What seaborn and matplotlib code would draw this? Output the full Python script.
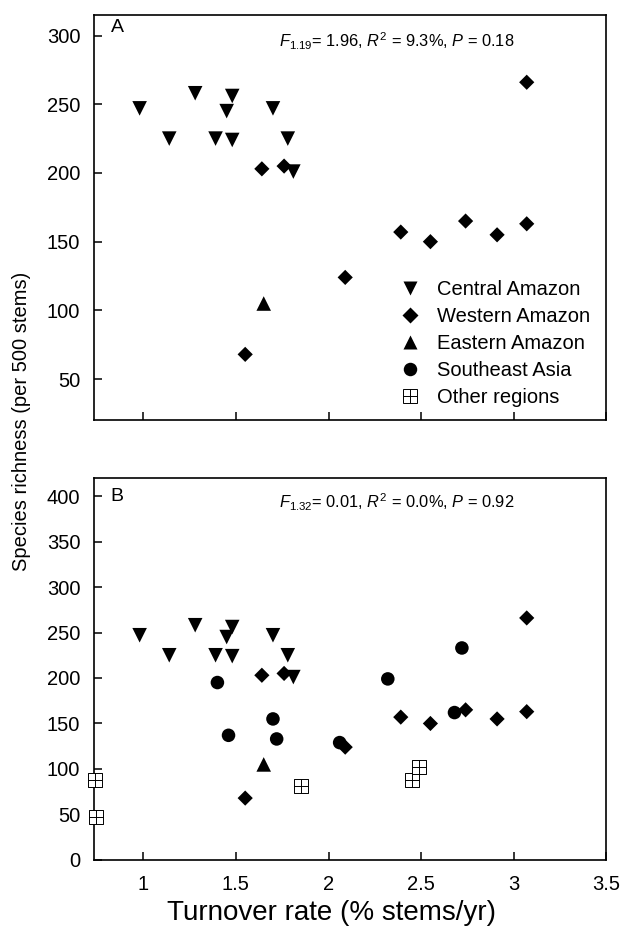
import seaborn as sns
import matplotlib.pyplot as plt
from matplotlib.lines import Line2D
from matplotlib.legend_handler import HandlerTuple
from matplotlib.ticker import FuncFormatter

# Turnover rate (% stems/yr) and species richness (per 500 stems) by region
central_x = [0.98, 1.14, 1.28, 1.48, 1.45, 1.39, 1.48, 1.70, 1.78, 1.81]
central_y = [247, 225, 258, 256, 245, 225, 224, 247, 225, 201]
western_x = [1.64, 1.76, 3.07, 2.39, 2.55, 2.74, 2.91, 3.07, 2.09, 1.55]
western_y = [203, 205, 266, 157, 150, 165, 155, 163, 124, 68]
eastern_x = [1.65]
eastern_y = [105]
asia_x = [1.40, 1.46, 1.70, 1.72, 2.06, 2.32, 2.68, 2.72]
asia_y = [195, 137, 155, 133, 129, 199, 162, 233]
other_x = [0.737, 0.742, 1.85, 2.45, 2.49]
other_y = [88, 47, 81, 88, 102]

region_labels = ["Central Amazon", "Western Amazon", "Eastern Amazon",
                 "Southeast Asia", "Other regions"]
stats_a = r"$F_{\mathrm{1.19}}$= 1.96, $R^{\mathrm{2}}$ = 9.3%, $P$ = 0.18"
stats_b = r"$F_{\mathrm{1.32}}$= 0.01, $R^{\mathrm{2}}$ = 0.0%, $P$ = 0.92"
x_ticks = [1, 1.5, 2, 2.5, 3, 3.5]

sns.set_style("ticks")
plt.rcParams['font.family'] = ['Liberation Sans', 'DejaVu Sans']
plt.rcParams['mathtext.fontset'] = 'custom'
plt.rcParams['mathtext.rm'] = 'Liberation Sans'
plt.rcParams['mathtext.it'] = 'Liberation Sans:italic'
for key in ['text.color', 'axes.labelcolor', 'xtick.color', 'ytick.color', 'axes.edgecolor']:
    plt.rcParams[key] = 'black'

fig = plt.figure(figsize=(6.2, 9.32), dpi=100)
ax_a = fig.add_axes([0.152, 0.549, 0.826, 0.435])
ax_b = fig.add_axes([0.152, 0.0773, 0.826, 0.41])

tri_s, dia_s, circ_s, sq_s = 110, 60, 95, 100


def draw_panel(ax, with_extra):
    sns.scatterplot(x=central_x, y=central_y, marker='v', s=tri_s, color='black',
                    edgecolor='none', ax=ax)
    sns.scatterplot(x=western_x, y=western_y, marker='D', s=dia_s, color='black',
                    edgecolor='none', ax=ax)
    sns.scatterplot(x=eastern_x, y=eastern_y, marker='^', s=tri_s, color='black',
                    edgecolor='none', ax=ax)
    if with_extra:
        sns.scatterplot(x=asia_x, y=asia_y, marker='o', s=circ_s, color='black',
                        edgecolor='none', ax=ax)
        sns.scatterplot(x=other_x, y=other_y, marker='s', s=sq_s, color='white',
                        edgecolor='black', linewidth=0.7, clip_on=False, zorder=3, ax=ax)
        sns.scatterplot(x=other_x, y=other_y, marker='+', s=sq_s, color='black',
                        linewidth=0.7, clip_on=False, zorder=4, ax=ax)
    ax.set_xlim(0.735, 3.5)
    ax.set_xticks(x_ticks)
    ax.tick_params(direction='in', length=6, width=1.1, labelsize=14.5,
                   top=False, right=False)
    ax.tick_params(axis='y', pad=10)
    ax.tick_params(axis='x', pad=11)
    for sp in ax.spines.values():
        sp.set_linewidth(1.2)
        sp.set_visible(True)


draw_panel(ax_a, False)
ax_a.set_ylim(20, 315)
ax_a.set_yticks(range(50, 301, 50))
ax_a.set_xticklabels([])
ax_a.text(0.032, 0.97, "A", transform=ax_a.transAxes, fontsize=14, va='center')
ax_a.text(0.36, 0.935, stats_a, transform=ax_a.transAxes, fontsize=11.8, va='center')

draw_panel(ax_b, True)
ax_b.set_ylim(0, 420)
ax_b.set_yticks(range(0, 401, 50))
ax_b.xaxis.set_major_formatter(FuncFormatter(lambda v, p: f"{v:g}"))
ax_b.text(0.032, 0.95, "B", transform=ax_b.transAxes, fontsize=14, va='center')
ax_b.text(0.36, 0.935, stats_b, transform=ax_b.transAxes, fontsize=11.8, va='center')

handles = [
    Line2D([], [], ls='none', marker='v', ms=10.5, color='black', mec='none'),
    Line2D([], [], ls='none', marker='D', ms=7.7, color='black', mec='none'),
    Line2D([], [], ls='none', marker='^', ms=10.5, color='black', mec='none'),
    Line2D([], [], ls='none', marker='o', ms=9.7, color='black', mec='none'),
    (Line2D([], [], ls='none', marker='s', ms=10, mfc='white', mec='black', mew=0.7),
     Line2D([], [], ls='none', marker='+', ms=10, color='black', mew=0.7)),
]
ax_a.legend(handles, region_labels, loc='upper left', bbox_to_anchor=(0.573, 0.371),
            frameon=False, fontsize=14.5, handlelength=1.2, handletextpad=0.75,
            labelspacing=0.4, borderpad=0,
            handler_map={tuple: HandlerTuple(ndivide=1)})

fig.text(0.034, 0.548, "Species richness (per 500 stems)", rotation=90,
         ha='center', va='center', fontsize=14.5)
fig.text(0.534, 0.0205, "Turnover rate (% stems/yr)", ha='center', va='center',
         fontsize=20)

fig.savefig("out.png", dpi=100)
